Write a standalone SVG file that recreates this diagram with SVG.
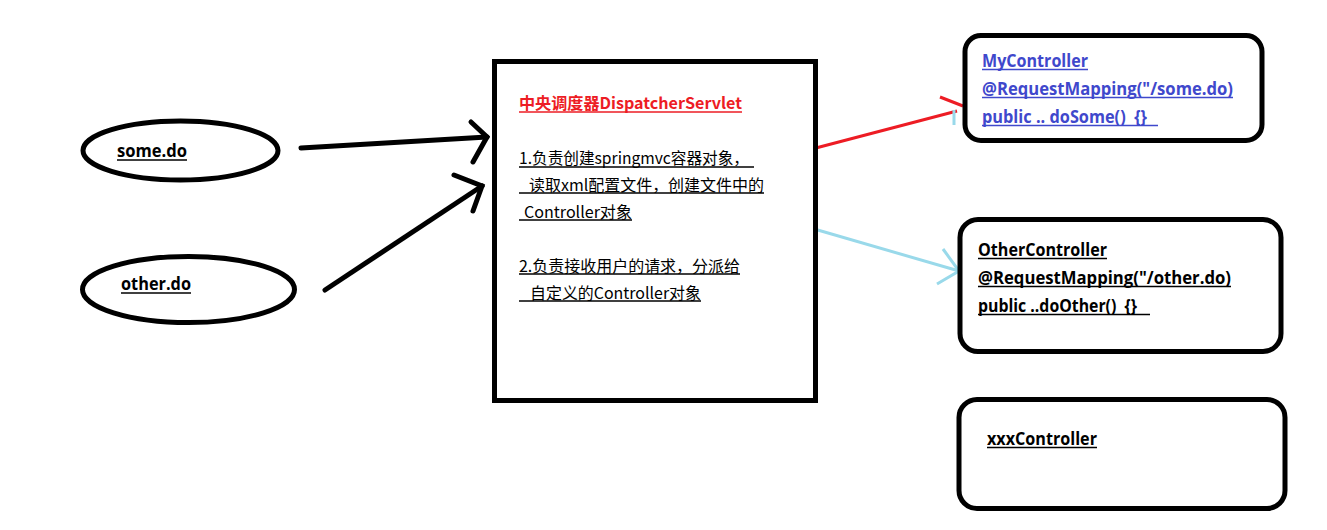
<svg xmlns="http://www.w3.org/2000/svg" width="1327" height="530" viewBox="0 0 1327 530">
<style>
.shape{fill:#fff;stroke:#000;stroke-width:5}
.lbl{font-family:"Open Sans","Noto Sans CJK SC",sans-serif;font-weight:bold;font-size:17px;fill:#000}
.blue{fill:#3f48cc}
.cn{font-family:"Noto Sans CJK SC",sans-serif;font-size:16px;fill:#000}
.ul{stroke:#000;stroke-width:1.5}
.blk{fill:none;stroke:#000;stroke-width:5;stroke-linecap:round}
</style>
<rect width="1327" height="530" fill="#fff"/>
<g id="connectors">
<g id="c-some">
<line class="blk" x1="301" y1="148" x2="487" y2="137"/>
<polyline class="blk" points="471,122 487,137 473,162"/>
</g>
<g id="c-other">
<line class="blk" x1="325" y1="290" x2="482" y2="186"/>
<polyline class="blk" points="454,175 482,186 473,211"/>
</g>
<g id="c-my">
<line x1="812" y1="149" x2="957" y2="111" stroke="#ed1c24" stroke-width="3"/>
<line x1="940" y1="97" x2="963" y2="106" stroke="#ed1c24" stroke-width="3"/>
<line x1="954" y1="110" x2="954" y2="125" stroke="#99d9ea" stroke-width="3"/>
</g>
<g id="c-oth">
<line x1="797" y1="224" x2="959" y2="271" stroke="#99d9ea" stroke-width="3"/>
<polyline points="943,249 959,271 937,284" fill="none" stroke="#99d9ea" stroke-width="3"/>
</g>
</g>
<g id="some">
<ellipse class="shape" cx="180.5" cy="150.5" rx="97.5" ry="29.5"/>
<text class="lbl" x="117" y="157" textLength="70" lengthAdjust="spacingAndGlyphs">some.do</text>
<line class="ul" x1="117" y1="160" x2="187" y2="160"/>
</g>
<g id="other">
<ellipse class="shape" cx="188.5" cy="289.5" rx="106" ry="33"/>
<text class="lbl" x="121" y="290" textLength="70" lengthAdjust="spacingAndGlyphs">other.do</text>
<line class="ul" x1="121" y1="293" x2="191" y2="293"/>
</g>
<g id="dispatcher">
<rect class="shape" x="494.5" y="61.5" width="321" height="339"/>
<text class="cn" x="519" y="109" style="fill:#ed1c24;font-weight:bold" textLength="223" lengthAdjust="spacingAndGlyphs">中央调度器DispatcherServlet</text>
<line x1="519" y1="112" x2="742" y2="112" stroke="#ed1c24" stroke-width="1.5"/>
<text class="cn" x="519" y="164" textLength="230" lengthAdjust="spacingAndGlyphs">1.负责创建springmvc容器对象，</text>
<line class="ul" x1="519" y1="167" x2="754" y2="167"/>
<text class="cn" x="529" y="191" textLength="235" lengthAdjust="spacingAndGlyphs">读取xml配置文件，创建文件中的</text>
<line class="ul" x1="519" y1="193" x2="764" y2="193"/>
<text class="cn" x="524" y="218" textLength="108" lengthAdjust="spacingAndGlyphs">Controller对象</text>
<line class="ul" x1="519" y1="220" x2="632" y2="220"/>
<text class="cn" x="519" y="272" textLength="221" lengthAdjust="spacingAndGlyphs">2.负责接收用户的请求，分派给</text>
<line class="ul" x1="519" y1="274" x2="740" y2="274"/>
<text class="cn" x="530" y="299" textLength="171" lengthAdjust="spacingAndGlyphs">自定义的Controller对象</text>
<line class="ul" x1="519" y1="301" x2="701" y2="301"/>
</g>
<g id="my">
<rect class="shape" x="965" y="35.5" width="297" height="105" rx="16"/>
<text class="lbl blue" x="982" y="67" textLength="106" lengthAdjust="spacingAndGlyphs">MyController</text>
<text class="lbl blue" x="982" y="95" textLength="251" lengthAdjust="spacingAndGlyphs">@RequestMapping("/some.do)</text>
<text class="lbl blue" x="982" y="123" textLength="165" lengthAdjust="spacingAndGlyphs" xml:space="preserve">public .. doSome()  {}</text>
<line x1="982" y1="69.5" x2="1088" y2="69.5" stroke="#3f48cc" stroke-width="1.5"/>
<line x1="982" y1="97.5" x2="1233" y2="97.5" stroke="#3f48cc" stroke-width="1.5"/>
<line x1="982" y1="125.5" x2="1158" y2="125.5" stroke="#3f48cc" stroke-width="1.5"/>
</g>
<g id="othercontroller">
<rect class="shape" x="960" y="219.5" width="321" height="132" rx="18"/>
<text class="lbl" x="978" y="256" textLength="129" lengthAdjust="spacingAndGlyphs">OtherController</text>
<text class="lbl" x="978" y="284" textLength="253" lengthAdjust="spacingAndGlyphs">@RequestMapping("/other.do)</text>
<text class="lbl" x="978" y="312" textLength="159" lengthAdjust="spacingAndGlyphs" xml:space="preserve">public ..doOther()  {}</text>
<line class="ul" x1="978" y1="258.5" x2="1107" y2="258.5"/>
<line class="ul" x1="978" y1="286.5" x2="1231" y2="286.5"/>
<line class="ul" x1="978" y1="314.5" x2="1150" y2="314.5"/>
</g>
<g id="xxx">
<rect class="shape" x="959" y="399.5" width="326" height="109" rx="18"/>
<text class="lbl" x="987" y="445" textLength="110" lengthAdjust="spacingAndGlyphs">xxxController</text>
<line class="ul" x1="987" y1="447.5" x2="1097" y2="447.5"/>
</g>
</svg>
